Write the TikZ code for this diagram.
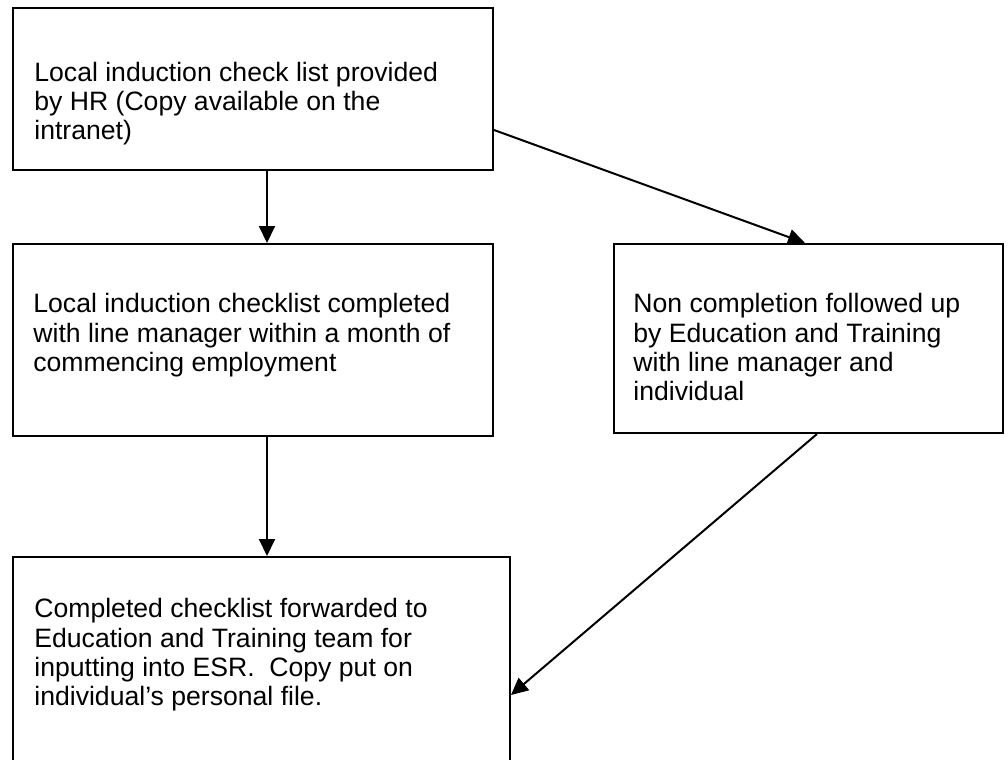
\documentclass[tikz,border=0pt]{standalone}
\usepackage{fontspec}
\setmainfont{Liberation Sans}
\usetikzlibrary{arrows.meta,calc}

\begin{document}
\begin{tikzpicture}[x=0.5pt,y=-0.5pt,
    box/.style={draw,line width=1pt,rectangle,inner sep=0pt},
    txt/.style={anchor=north west,inner sep=0pt,align=left,
        font=\fontsize{13.3pt}{14.7pt}\selectfont},
    flow/.style={line width=1pt,-{Triangle[length=8.5pt,width=8pt]}}]
    \useasboundingbox (0,0) rectangle (1008,760);
    %\draw[very thin,color=gray] (0,0) grid[step=50] (1008,760);

    \node[box,minimum width=240pt,minimum height=81pt] (provide) at (253,89) {};
    \node[box,minimum width=240pt,minimum height=96pt] (complete) at (253,340) {};
    \node[box,minimum width=194.5pt,minimum height=94.5pt] (followup) at (808.5,338.5) {};
    \node[box,minimum width=248.5pt,minimum height=109pt] (forward) at (261.5,666) {};

    \node[txt] (tprovide) at (34,61.5) {Local induction check list provided\\by HR (Copy available on the\\intranet)};
    \node[txt] (tcomplete) at (33,293) {Local induction checklist completed\\with line manager within a month of\\commencing employment};
    \node[txt] (tfollowup) at (633,293) {Non completion followed up\\by Education and Training\\with line manager and\\individual};
    \node[txt] (tforward) at (34,598) {Completed checklist forwarded to\\Education and Training team for\\inputting into ESR.\ \ Copy put on\\individual’s personal file.};

    \draw[flow] ($(provide.south)+(14,0)$) -- ($(complete.north)+(14,0)$);
    \draw[flow] ($(provide.east)+(0,41)$) -- ($(followup.north)+(-3.5,0)$);
    \draw[flow] ($(complete.south)+(14,0)$) -- ($(forward.north)+(5.5,0)$);
    \draw[flow] ($(followup.south)+(8.5,0)$) -- ($(forward.east)+(0,29)$);

\end{tikzpicture}
\end{document}
